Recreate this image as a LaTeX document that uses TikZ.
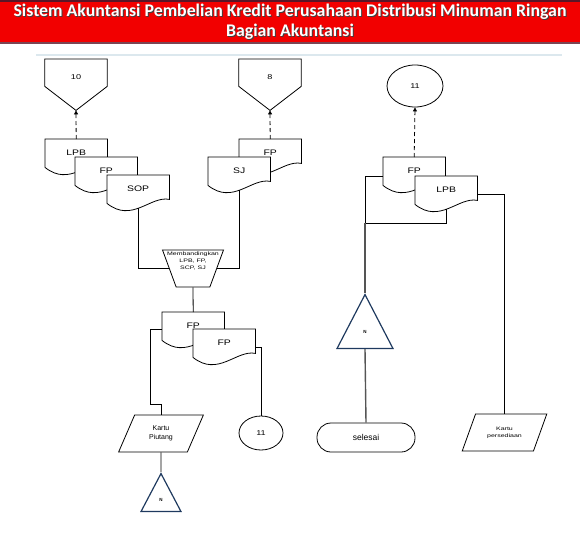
\documentclass[tikz,border=0pt]{standalone}
\usepackage{fontspec}
\usetikzlibrary{shapes.geometric, arrows.meta, positioning, calc}
\newfontfamily\lblfont[FakeStretch=1.3]{Liberation Sans}
\newfontfamily\smallfont[FakeStretch=1.4]{Liberation Sans}
\newfontfamily\plainfont{Liberation Sans}
\newfontfamily\titlefont{Carlito}
\pgfdeclarelayer{background}
\pgfsetlayers{background,main}
\definecolor{bannerred}{HTML}{F20000}
\definecolor{bannerdark}{HTML}{5A1628}
\definecolor{triblue}{HTML}{1F3A5F}
\definecolor{linegray}{HTML}{555555}
\definecolor{seplight}{HTML}{DCE8EE}

\tikzset{
  titletext/.style={text=white, align=center, font=\titlefont\bfseries\fontsize{17.8}{20}\selectfont},
  docline/.style={draw=black, fill=white, line width=0.8pt},
  doc/.style={anchor=north west, minimum width=62pt, minimum height=28pt, inner sep=0pt,
    font=\lblfont\fontsize{8}{9}\selectfont},
  offpage/.style={anchor=north, minimum width=62pt, minimum height=36pt, inner sep=0pt,
    font=\lblfont\fontsize{7}{8}\selectfont},
  onpage/.style={ellipse, draw, line width=0.8pt, inner sep=0pt,
    font=\lblfont\fontsize{7}{8}\selectfont},
  manualop/.style={trapezium, trapezium left angle=112, trapezium right angle=112,
    trapezium stretches=true, draw, line width=0.8pt, minimum width=61pt, minimum height=37pt,
    inner sep=2pt},
  cmptext/.style={align=center, inner sep=0pt, font=\smallfont\fontsize{5}{7}\selectfont},
  datanode/.style={trapezium, trapezium stretches=true, draw, line width=0.8pt,
    minimum width=85pt, minimum height=37pt, inner sep=1pt, align=center},
  archive/.style={isosceles triangle, isosceles triangle stretches=true, shape border rotate=90,
    anchor=apex, draw=triblue, line width=1.2pt, inner sep=1pt,
    font=\plainfont\bfseries\fontsize{4.5}{5}\selectfont},
  terminal/.style={rectangle, rounded corners=14pt, draw, line width=0.8pt,
    minimum width=98pt, minimum height=29pt, font=\plainfont\fontsize{8.5}{10}\selectfont},
  link/.style={draw=black, line width=0.8pt},
  graylink/.style={draw=linegray, line width=1.4pt},
  dashlink/.style={draw=black, line width=0.8pt, dash pattern=on 4pt off 3pt,
    -{Triangle[length=4pt,width=4pt]}}
}

% document symbol with wavy bottom, drawn behind its label
\newcommand{\docwave}[1]{%
  \begin{pgfonlayer}{background}
  \filldraw[docline] (#1.north west) -- (#1.north east) -- ([yshift=4pt]#1.south east)
    .. controls ([yshift=8pt]$(#1.south west)!0.7!(#1.south east)$)
    and ([yshift=-20pt]$(#1.south west)!0.4!(#1.south east)$) .. (#1.south west) -- cycle;
  \end{pgfonlayer}}
% off-page connector, point 15pt below the node
\newcommand{\offshape}[1]{%
  \begin{pgfonlayer}{background}
  \filldraw[docline] (#1.north west) -- (#1.north east) -- ([yshift=9pt]#1.south east)
    -- ([yshift=-15pt]#1.south) -- ([yshift=9pt]#1.south west) -- cycle;
  \end{pgfonlayer}}

\begin{document}
\begin{tikzpicture}[x=1pt, y=-1pt]
\useasboundingbox (0,0) rectangle (580,535);

% Title banner
\fill[bannerred] (0,0) rectangle (580,44);
\draw[bannerdark, line width=2pt] (0,1) -- (580,1);
\draw[bannerdark!80, line width=2pt] (0,43.5) -- (580,43.5);
\node[titletext, text=black!75] (titleshadow) at (291,23.2) {Sistem Akuntansi Pembelian Kredit Perusahaan Distribusi Minuman Ringan\\Bagian Akuntansi};
\node[titletext] (title) at (290,22) {Sistem Akuntansi Pembelian Kredit Perusahaan Distribusi Minuman Ringan\\Bagian Akuntansi};
\draw[seplight, line width=1pt] (36,55) -- (562,55);

% Left flow: LPB, FP, SOP
\node[offpage] (off10) at (76,59) {10};
\offshape{off10}
\node[doc] (lpbA) at (45,139) {LPB};
\docwave{lpbA}
\node[doc] (fpA) at (75,157) {FP};
\docwave{fpA}
\node[doc] (sop) at (107,175) {SOP};
\docwave{sop}

% FP and SJ
\node[offpage] (off8) at (270,59) {8};
\offshape{off8}
\node[doc] (fpB) at (239,139) {FP};
\docwave{fpB}
\node[doc] (sj) at (208,157) {SJ};
\docwave{sj}

% Compare
\node[manualop] (cmp) at (193,268.5) {};
\node[cmptext] (cmpnote) at (193,261) {Membandingkan\\LPB, FP,\\SCP, SJ};

\node[doc] (fpC) at (162,312) {FP};
\docwave{fpC}
\node[doc] (fpD) at (193,329) {FP};
\docwave{fpD}

\node[datanode, trapezium left angle=65, trapezium right angle=115,
  font=\plainfont\fontsize{7}{8.5}\selectfont] (kp) at (161,433.5) {Kartu\\Piutang};
\node[archive, minimum width=40pt, minimum height=38pt] (nA) at (161,472) {N};
\node[onpage, minimum width=44pt, minimum height=34pt] (c11a) at (261,433) {11};

% Right flow: FP, LPB
\node[onpage, minimum width=56pt, minimum height=42pt] (c11b) at (415,86) {11};
\node[doc] (fpE) at (383,157) {FP};
\docwave{fpE}
\node[doc] (lpbE) at (415,176) {LPB};
\docwave{lpbE}
\coordinate (jn) at (365,223);

\node[archive, minimum width=56pt, minimum height=54pt] (nB) at (365,293) {N};
\node[terminal] (sel) at (366,437.5) {selesai};
\node[datanode, trapezium left angle=58, trapezium right angle=122,
  font=\smallfont\fontsize{5}{7}\selectfont] (kps) at (504.5,432.5) {Kartu\\persediaan};

% Connectors
\draw[dashlink] (lpbA.north) -- ([yshift=-15pt]off10.south);
\draw[dashlink] (fpB.north) -- ([yshift=-15pt]off8.south);
\draw[link] ([yshift=-5pt]sop.south) |- (cmp.west);
\draw[link] ([yshift=-5pt]sj.south) |- (cmp.east);
\draw[link] (cmp.south) -- (fpC.north);
\draw[link] ([yshift=-3pt]fpC.west) -- ++(-12,0) |- ([yshift=10pt]kp.north) -- (kp.north);
\draw[link] ([yshift=-4pt]fpD.east) -| (c11a.north);
\draw[link] (kp.south) -- (nA.apex);

\draw[dashlink] (fpE.north) -- (c11b.south);
\draw[link] ([yshift=-5pt]fpE.west) -| (jn);
\draw[link] ([yshift=-5pt]lpbE.south) |- (jn);
\draw[graylink] (jn) -- (nB.apex);
\draw[graylink] (nB.lower side) -- (sel.north);
\draw[link] ([yshift=-4pt]lpbE.east) -| (kps.north);
\end{tikzpicture}
\end{document}
